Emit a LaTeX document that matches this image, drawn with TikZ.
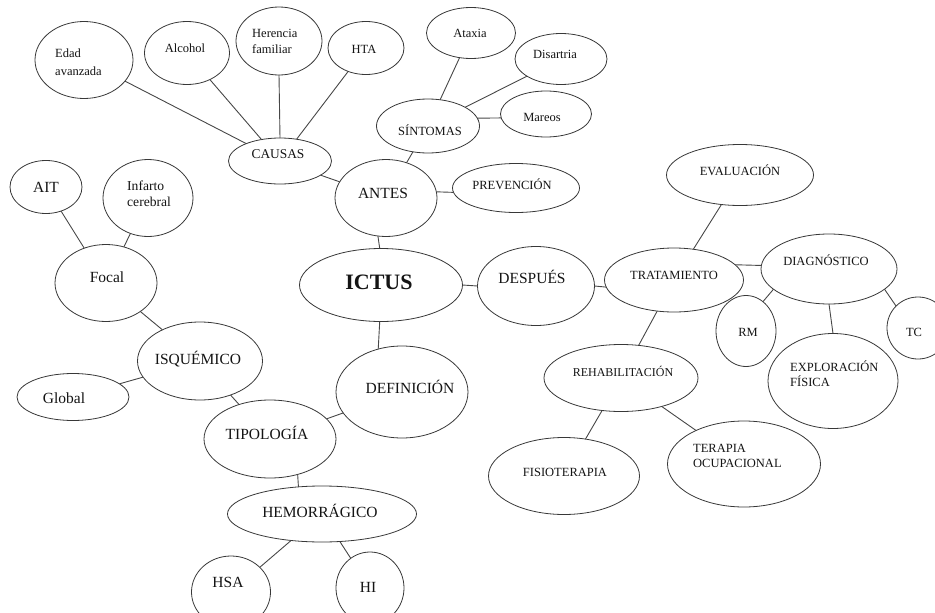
\documentclass[tikz,border=0pt]{standalone}
\usepackage{fontspec}
\setmainfont{Liberation Serif}
\usetikzlibrary{shapes.geometric}
\tikzset{
  elp/.style={ellipse, draw=black!78, line width=0.8pt, inner sep=0pt, outer sep=0pt, fill=white},
  lbl/.style={inner sep=0pt, font=\fontsize{12.5}{16}\selectfont, text=black!92},
  midf/.style={font=\fontsize{15.5}{18}\selectfont},
  con/.style={draw=black!72, line width=0.9pt},
}
\begin{document}
\begin{tikzpicture}[x=1pt,y=-1pt]
\useasboundingbox (0,0) rectangle (935,613);
\clip (0,0) rectangle (935,613);
% ellipses
\node[elp, minimum width=98pt, minimum height=77pt] (edad) at (84,60) {};
\node[elp, minimum width=85pt, minimum height=63pt] (alcohol) at (187,53) {};
\node[elp, minimum width=86pt, minimum height=68pt] (herencia) at (279,41) {};
\node[elp, minimum width=76pt, minimum height=53pt] (hta) at (366,48) {};
\node[elp, minimum width=103pt, minimum height=46pt] (causas) at (280,161) {};
\node[elp, minimum width=102pt, minimum height=77pt] (antes) at (386,198) {};
\node[elp, minimum width=89pt, minimum height=51pt] (ataxia) at (471,33) {};
\node[elp, minimum width=92pt, minimum height=51pt] (disartria) at (561,59) {};
\node[elp, minimum width=103pt, minimum height=54pt] (sintomas) at (428,126) {};
\node[elp, minimum width=91pt, minimum height=46pt] (mareos) at (546,114) {};
\node[elp, minimum width=127pt, minimum height=49pt] (prevencion) at (516,188) {};
\node[elp, minimum width=72pt, minimum height=53pt] (ait) at (46,187) {};
\node[elp, minimum width=90pt, minimum height=77pt] (infarto) at (148,198) {};
\node[elp, minimum width=102pt, minimum height=77pt] (focal) at (106,283) {};
\node[elp, minimum width=125pt, minimum height=78pt] (isquemico) at (200,361) {};
\node[elp, minimum width=112pt, minimum height=47pt] (global) at (73,397) {};
\node[elp, minimum width=132pt, minimum height=78pt] (tipologia) at (270,439) {};
\node[elp, minimum width=163pt, minimum height=73pt] (ictus) at (381,285) {};
\node[elp, minimum width=132pt, minimum height=92pt] (definicion) at (402,392) {};
\node[elp, minimum width=189pt, minimum height=56pt] (hemorragico) at (322,514) {};
\node[elp, minimum width=79pt, minimum height=72pt] (hsa) at (231,592) {};
\node[elp, minimum width=68pt, minimum height=72pt] (hi) at (370,588) {};
\node[elp, minimum width=147pt, minimum height=61pt] (evaluacion) at (740,175) {};
\node[elp, minimum width=117pt, minimum height=79pt] (despues) at (536,286) {};
\node[elp, minimum width=139pt, minimum height=64pt] (tratamiento) at (674,280) {};
\node[elp, minimum width=136pt, minimum height=70pt] (diagnostico) at (829,269) {};
\node[elp, minimum width=60pt, minimum height=71pt] (rm) at (746,331) {};
\node[elp, minimum width=62pt, minimum height=62pt] (tc) at (918,328) {};
\node[elp, minimum width=130pt, minimum height=95pt] (exploracion) at (833,381) {};
\node[elp, minimum width=154pt, minimum height=67pt] (rehab) at (621,378) {};
\node[elp, minimum width=151pt, minimum height=77pt] (fisio) at (564,476) {};
\node[elp, minimum width=153pt, minimum height=86pt] (terapia) at (744,464) {};
% connectors
\draw[con] (edad) -- (causas);
\draw[con] (alcohol) -- (causas);
\draw[con] (herencia.south) -- (causas.north);
\draw[con] (hta) -- (causas);
\draw[con] (causas) -- (antes);
\draw[con] (sintomas) -- (antes);
\draw[con] (ataxia) -- (sintomas);
\draw[con] (disartria) -- (sintomas);
\draw[con] (sintomas.9) -- (mareos.185);
\draw[con] (antes.7) -- (prevencion.184);
\draw[con] (antes.-102) -- (ictus.92);
\draw[con] (ictus.-92) -- (definicion.119);
\draw[con] (definicion) -- (tipologia);
\draw[con] (isquemico) -- (tipologia);
\draw[con] (isquemico) -- (global);
\draw[con] (focal) -- (isquemico);
\draw[con] (ait) -- (focal);
\draw[con] (infarto) -- (focal);
\draw[con] (tipologia.-52) -- (hemorragico.131);
\draw[con] (hemorragico) -- (hsa);
\draw[con] (hemorragico) -- (hi);
\draw[con] (ictus.east) -- (despues.west);
\draw[con] (despues.east) -- (tratamiento.186);
\draw[con] (tratamiento) -- (evaluacion);
\draw[con] (tratamiento.14) -- (diagnostico.177);
\draw[con] (diagnostico.-160) -- (rm.60);
\draw[con] (diagnostico.south) -- (exploracion.north);
\draw[con] (diagnostico.-20) -- (tc.135);
\draw[con] (tratamiento) -- (rehab);
\draw[con] (rehab) -- (fisio);
\draw[con] (rehab) -- (terapia);
% labels
\node[lbl, align=left, anchor=west, font=\fontsize{12.5}{17.5}\selectfont] (tedad) at (55,62) {Edad\\avanzada};
\node[lbl] (talcohol) at (185,48) {Alcohol};
\node[lbl, align=left, anchor=west, font=\fontsize{12.5}{16}\selectfont] (therencia) at (252,41) {Herencia\\familiar};
\node[lbl] (thta) at (364,49) {HTA};
\node[lbl, font=\fontsize{13.4}{16}\selectfont] (tcausas) at (278,154) {CAUSAS};
\node[lbl, midf] (tantes) at (383,193) {ANTES};
\node[lbl] (tataxia) at (470,33) {Ataxia};
\node[lbl] (tdisartria) at (555,54) {Disartria};
\node[lbl] (tsintomas) at (430,130) {SÍNTOMAS};
\node[lbl] (tmareos) at (542,117) {Mareos};
\node[lbl] (tprevencion) at (512,184) {PREVENCIÓN};
\node[lbl, midf] (tait) at (46,187) {AIT};
\node[lbl, align=left, anchor=west, font=\fontsize{13.6}{16.5}\selectfont] (tinfarto) at (127,194) {Infarto\\cerebral};
\node[lbl, midf] (tfocal) at (107,277) {Focal};
\node[lbl, midf] (tisquemico) at (198,359) {ISQUÉMICO};
\node[lbl, midf] (tglobal) at (64,398) {Global};
\node[lbl, midf] (ttipologia) at (267,433) {TIPOLOGÍA};
\node[lbl, font=\bfseries\fontsize{22}{24}\selectfont] (tictus) at (379,282) {ICTUS};
\node[lbl, midf] (tdefinicion) at (410,387) {DEFINICIÓN};
\node[lbl, midf] (themorragico) at (320,511) {HEMORRÁGICO};
\node[lbl, midf] (thsa) at (228,582) {HSA};
\node[lbl, midf] (thi) at (368,587) {HI};
\node[lbl] (tevaluacion) at (740,170) {EVALUACIÓN};
\node[lbl, midf] (tdespues) at (532,277) {DESPUÉS};
\node[lbl] (ttratamiento) at (674,275) {TRATAMIENTO};
\node[lbl] (tdiagnostico) at (826,260) {DIAGNÓSTICO};
\node[lbl] (trm) at (748,332) {RM};
\node[lbl] (ttc) at (914,332) {TC};
\node[lbl, align=left, anchor=west, font=\fontsize{12.5}{15}\selectfont] (texploracion) at (790,374) {EXPLORACIÓN\\FÍSICA};
\node[lbl, font=\fontsize{12}{15}\selectfont] (trehab) at (623,371) {REHABILITACIÓN};
\node[lbl] (tfisio) at (565,472) {FISIOTERAPIA};
\node[lbl, align=left, anchor=west, font=\fontsize{12.5}{15}\selectfont] (tterapia) at (693,456) {TERAPIA\\OCUPACIONAL};
\end{tikzpicture}
\end{document}
